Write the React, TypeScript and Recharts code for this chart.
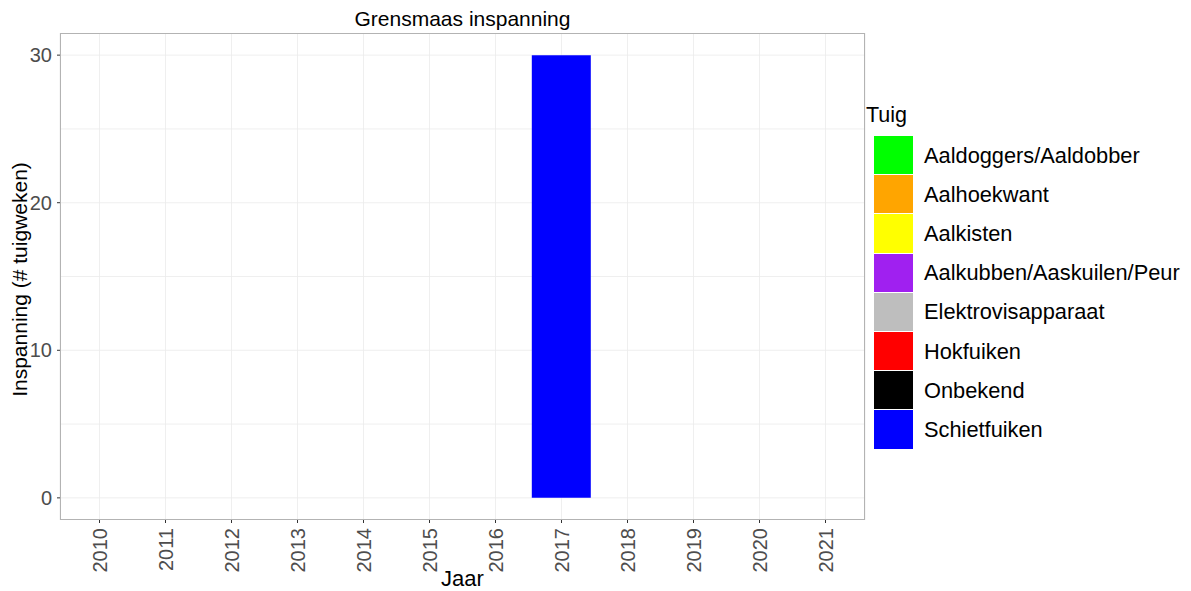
import { BarChart, Bar, XAxis, YAxis, CartesianGrid } from 'recharts'

const years = ['2010', '2011', '2012', '2013', '2014', '2015', '2016', '2017', '2018', '2019', '2020', '2021']

const gears = [
  'Aaldoggers/Aaldobber',
  'Aalhoekwant',
  'Aalkisten',
  'Aalkubben/Aaskuilen/Peur',
  'Elektrovisapparaat',
  'Hokfuiken',
  'Onbekend',
  'Schietfuiken',
]

const gearColors = ['#00ff00', '#ffa500', '#ffff00', '#a020f0', '#bebebe', '#ff0000', '#000000', '#0000ff']

// only Schietfuiken has effort in this area (2017)
const schietfuiken = [0, 0, 0, 0, 0, 0, 0, 30, 0, 0, 0, 0]

const yTicks = [0, 10, 20, 30]
const gridValues = [0, 5, 10, 15, 20, 25, 30]

const FONT = '"Liberation Sans", Arial, sans-serif'

const data = years.map((year, i) => {
  const row: Record<string, any> = { year }
  gears.forEach((g) => {
    row[g] = g === 'Schietfuiken' ? schietfuiken[i] : 0
  })
  return row
})

const XTick = ({ x, y, payload }: any) => (
  <text
    transform={`translate(${x},${y + 3}) rotate(-90)`}
    textAnchor="end"
    dy="0.35em"
    fill="#4d4d4d"
    fontSize={20}
    fontFamily={FONT}
  >
    {payload.value}
  </text>
)

const YTick = ({ x, y, payload }: any) => (
  <text x={x - 3} y={y} textAnchor="end" dy="0.35em" fill="#4d4d4d" fontSize={20} fontFamily={FONT}>
    {payload.value}
  </text>
)

function TuigLegend() {
  return (
    <div style={{ position: 'absolute', left: 866, top: 101, fontFamily: FONT, color: '#000' }}>
      <div style={{ fontSize: 21.5, height: 28, lineHeight: '28px', marginBottom: 7 }}>Tuig</div>
      {gears.map((g, i) => (
        <div key={g} style={{ display: 'flex', alignItems: 'center', height: 39.2 }}>
          <div
            style={{
              width: 39,
              height: 39.2,
              background: gearColors[i],
              marginLeft: 8,
              borderBottom: '1px solid #fff',
              boxSizing: 'border-box',
            }}
          />
          <span style={{ fontSize: 21.8, marginLeft: 11, whiteSpace: 'nowrap' }}>{g}</span>
        </div>
      ))}
    </div>
  )
}

export default function App() {
  return (
    <div style={{ position: 'absolute', left: 0, top: 0, width: 1191, height: 591, background: '#fff' }}>
      <div
        style={{
          position: 'absolute',
          left: 60,
          width: 805,
          top: 7,
          textAlign: 'center',
          fontFamily: FONT,
          fontSize: 21,
          lineHeight: '24px',
          color: '#000',
        }}
      >
        Grensmaas inspanning
      </div>
      <BarChart
        width={1191}
        height={591}
        data={data}
        margin={{ top: 33, right: 326, left: 0, bottom: 0 }}
        barCategoryGap="5%"
        style={{ fontFamily: FONT }}
      >
        <CartesianGrid stroke="#ebebeb" strokeWidth={0.8} horizontalValues={gridValues} />
        <XAxis
          dataKey="year"
          height={71}
          padding={{ left: 6.5, right: 6.5 }}
          tick={<XTick />}
          tickLine={{ stroke: '#333' }}
          tickSize={3}
          axisLine={false}
          interval={0}
          label={{ value: 'Jaar', position: 'insideBottom', offset: 0, dy: -5, fill: '#000', fontSize: 22, fontFamily: FONT }}
        />
        <YAxis
          width={60}
          domain={[-1.5, 31.5]}
          ticks={yTicks}
          tick={<YTick />}
          tickLine={{ stroke: '#333' }}
          tickSize={3}
          axisLine={false}
          label={{
            value: 'Inspanning (# tuigweken)',
            angle: -90,
            position: 'insideLeft',
            dx: 15,
            dy: 3,
            fill: '#000',
            fontSize: 21,
            fontFamily: FONT,
            style: { textAnchor: 'middle' },
          }}
        />
        {gears.map((g, i) => (
          <Bar key={g} dataKey={g} stackId="a" fill={gearColors[i]} isAnimationActive={false} />
        ))}
      </BarChart>
      {/* panel border */}
      <div
        style={{
          position: 'absolute',
          left: 60,
          top: 33,
          width: 805,
          height: 487,
          border: '1px solid #b3b3b3',
          boxSizing: 'border-box',
          pointerEvents: 'none',
        }}
      />
      <TuigLegend />
    </div>
  )
}
